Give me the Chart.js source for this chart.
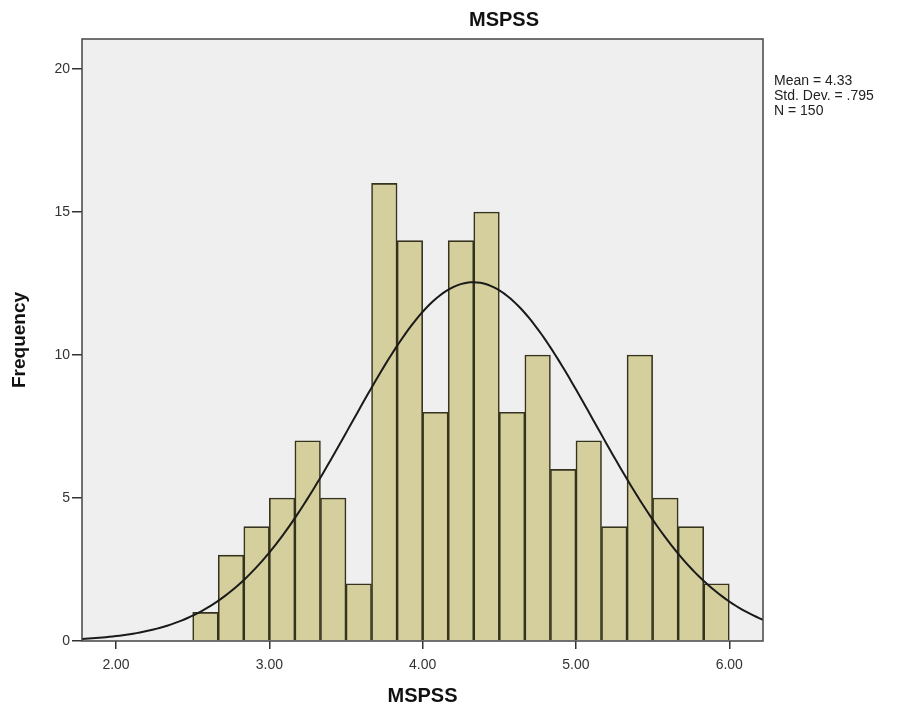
<!DOCTYPE html>
<html>
<head>
<meta charset="utf-8">
<script src="https://cdn.jsdelivr.net/npm/chart.js@4.4.1/dist/chart.umd.min.js"></script>
<style>
  html, body { margin: 0; padding: 0; background: #fff; }
  #wrap { width: 906px; height: 712px; }
</style>
</head>
<body>
<div id="wrap"><canvas id="hist" width="906" height="712"></canvas></div>
<script>
// bin edges of the histogram (21 bins, 2.50 .. 6.00)
const binStart = 2.5;
const binWidth = 3.5 / 21;
const counts = [1, 3, 4, 5, 7, 5, 2, 16, 14, 8, 14, 15, 8, 10, 6, 7, 4, 10, 5, 4, 2];

// stats printed beside the plot
const mean = 4.33;
const stdDev = 0.795;
const n = 150;
const statLines = ["Mean = 4.33", "Std. Dev. = .795", "N = 150"];

const xTicks = [2, 3, 4, 5, 6];
const yTicks = [0, 5, 10, 15, 20];
const xMin = 1.778, xMax = 6.22;
const yMax = 21.05;

const bars = counts.map((c, i) => ({ x: binStart + binWidth * (i + 0.5), y: c }));

// fitted normal curve, scaled to counts per bin
const curve = [];
for (let i = 0; i <= 200; i++) {
    const x = xMin + (xMax - xMin) * i / 200;
    const z = (x - mean) / stdDev;
    curve.push({ x: x, y: n * binWidth * Math.exp(-0.5 * z * z) / (stdDev * Math.sqrt(2 * Math.PI)) });
}

const FONT = "'Liberation Sans', Arial, sans-serif";

// grey plot background + frame + title + stats text
const decor = {
    id: 'decor',
    beforeDatasetsDraw(chart) {
        const { ctx, chartArea: a } = chart;
        ctx.save();
        ctx.fillStyle = '#efefef';
        ctx.fillRect(a.left, a.top, a.right - a.left, a.bottom - a.top);
        ctx.restore();
    },
    afterDraw(chart) {
        const { ctx, chartArea: a } = chart;
        ctx.save();
        ctx.strokeStyle = '#444';
        ctx.lineWidth = 1.5;
        ctx.strokeRect(a.left, a.top, a.right - a.left, a.bottom - a.top);

        ctx.fillStyle = '#111';
        ctx.font = `bold 20px ${FONT}`;
        ctx.textAlign = 'center';
        ctx.textBaseline = 'middle';
        ctx.fillText('MSPSS', a.right - 259, 20);

        ctx.fillStyle = '#222';
        ctx.font = `14px ${FONT}`;
        ctx.textAlign = 'left';
        statLines.forEach((t, i) => ctx.fillText(t, a.right + 11, 81 + i * 15));
        ctx.restore();
    }
};

new Chart(document.getElementById('hist'), {
    type: 'bar',
    plugins: [decor],
    data: {
        datasets: [
            {
                type: 'line',
                data: curve,
                borderColor: '#1a1a1a',
                borderWidth: 2,
                pointRadius: 0,
                tension: 0,
                order: 0
            },
            {
                data: bars,
                backgroundColor: '#d4cf9c',
                borderColor: '#35331e',
                borderWidth: 1.6,
                barPercentage: 1,
                categoryPercentage: 1,
                order: 1
            }
        ]
    },
    options: {
        responsive: false,
        animation: false,
        layout: { padding: { top: 39, right: 143, left: 0, bottom: 0 } },
        plugins: { legend: { display: false }, tooltip: { enabled: false } },
        scales: {
            x: {
                type: 'linear',
                min: xMin,
                max: xMax,
                offset: false,
                afterBuildTicks: (s) => { s.ticks = xTicks.map(v => ({ value: v })); },
                afterFit: (s) => { s.height = 71; },
                grid: { offset: false, drawOnChartArea: false, tickLength: 8, color: '#333', lineWidth: 1.5 },
                border: { display: false },
                ticks: {
                    color: '#333',
                    font: { family: FONT, size: 14 },
                    padding: 8,
                    maxRotation: 0,
                    callback: (v) => v.toFixed(2)
                },
                title: {
                    display: true,
                    text: 'MSPSS',
                    color: '#111',
                    font: { family: FONT, size: 20, weight: 'bold' },
                    padding: { top: 8 }
                }
            },
            y: {
                min: 0,
                max: yMax,
                afterBuildTicks: (s) => { s.ticks = yTicks.map(v => ({ value: v })); },
                afterFit: (s) => { s.width = 82; },
                grid: { drawOnChartArea: false, tickLength: 10, color: '#333', lineWidth: 1.5 },
                border: { display: false },
                ticks: {
                    color: '#333',
                    font: { family: FONT, size: 14 },
                    padding: 2
                },
                title: {
                    display: true,
                    text: 'Frequency',
                    color: '#111',
                    font: { family: FONT, size: 19, weight: 'bold' },
                    padding: { top: 8, bottom: 4 }
                }
            }
        }
    }
});
</script>
</body>
</html>
